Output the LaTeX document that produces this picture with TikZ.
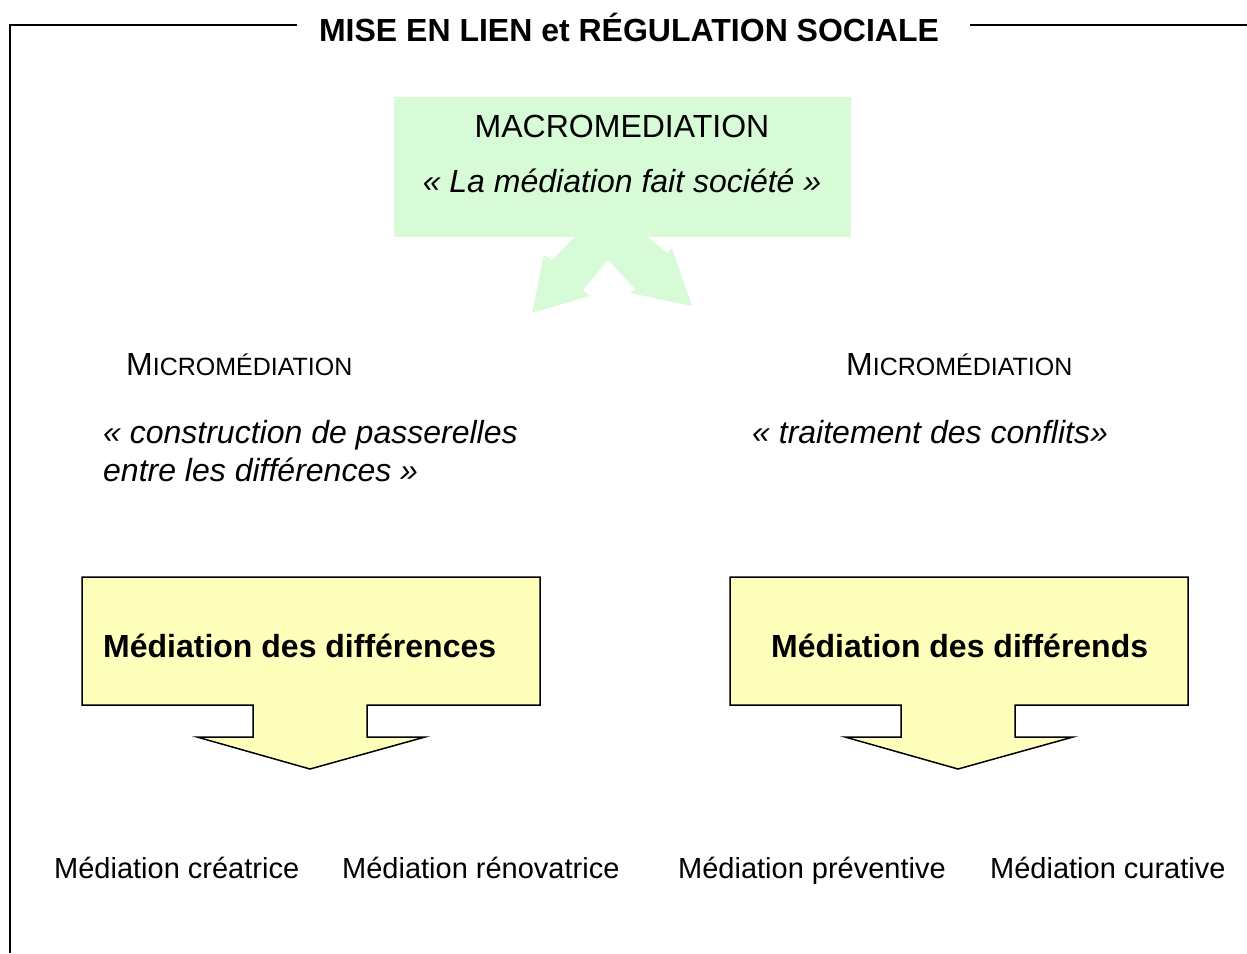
\documentclass[tikz,border=0pt]{standalone}
\usepackage{fontspec}
\setmainfont{Liberation Sans}
\usetikzlibrary{positioning}
\definecolor{macrogreen}{RGB}{215,250,215}
\definecolor{calloutyellow}{RGB}{255,255,188}

\begin{document}
\begin{tikzpicture}[x=1pt, y=-1pt,
    txt/.style={inner sep=0pt, font=\fontsize{32}{38}\selectfont},
    lbl/.style={inner sep=0pt, font=\fontsize{29}{35}\selectfont},
    callout/.style={draw=black, line width=1.5pt, fill=calloutyellow, line join=miter}]
    \useasboundingbox (0,0) rectangle (1247,953);

    % Frame and title
    \node[txt, anchor=base] (title) at (629,41) {\bfseries MISE EN LIEN et RÉGULATION SOCIALE};
    \draw[line width=2pt] (297,25) -- (10,25) -- (10,953);
    \draw[line width=2pt] (970,25) -- (1247,25);

    % Macromediation box and double arrow
    \fill[macrogreen] (394,97) rectangle (851,237);
    \fill[macrogreen] (607,203) -- (667,253) -- (672,248) -- (692,306) -- (630,293) -- (635,289)
      -- (608,260) -- (583,290) -- (590,296) -- (532,313) -- (544,255) -- (552,260) -- cycle;
    \node[txt, anchor=base] (macro) at (622,137) {MACROMEDIATION};
    \node[txt, anchor=base] (macroquote) at (622,192) {\itshape « La médiation fait société »};

    % Micromediation
    \node[txt, anchor=base west] (microleft) at (126,375) {M\fontsize{25}{30}\selectfont ICROMÉDIATION};
    \node[txt, anchor=base west] (microright) at (846,375) {M\fontsize{25}{30}\selectfont ICROMÉDIATION};
    \node[txt, anchor=base west] (quoteleft) at (103,443) {\itshape « construction de passerelles};
    \node[txt, anchor=base west] (quoteleftb) at (103,481) {\itshape entre les différences »};
    \node[txt, anchor=base west] (quoteright) at (752,443) {\itshape « traitement des conflits»};

    % Callout arrows
    \foreach \sx in {82, 730} {
      \draw[callout, shift={(\sx,577)}] (0,0) -- (458,0) -- (458,128) -- (285,128) -- (285,160)
        -- (343,160) -- (228,192) -- (115,160) -- (171,160) -- (171,128) -- (0,128) -- cycle;
    }
    \node[txt, anchor=base west] (differences) at (103,657) {\bfseries Médiation des différences};
    \node[txt, anchor=base west] (differends) at (771,657) {\bfseries Médiation des différends};

    % Kinds of mediation
    \foreach \x/\t/\n in {54/Médiation créatrice/creatrice, 342/Médiation rénovatrice/renovatrice,
                          678/Médiation préventive/preventive, 990/Médiation curative/curative} {
      \node[lbl, anchor=base west] (\n) at (\x,878) {\t};
    }
\end{tikzpicture}
\end{document}
